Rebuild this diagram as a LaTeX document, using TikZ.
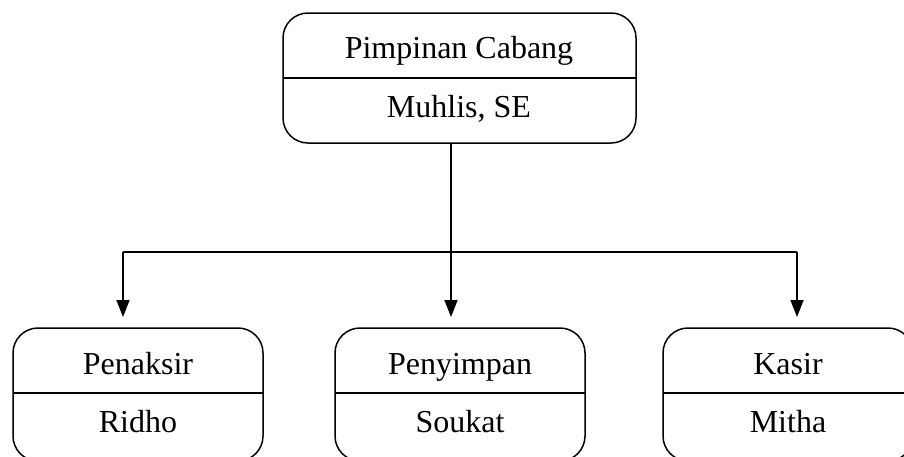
\documentclass[tikz,border=0pt]{standalone}
\usepackage{fontspec}
\setmainfont{Liberation Serif}
\usetikzlibrary{arrows.meta}
\begin{document}
\begin{tikzpicture}[x=1pt,y=-1pt,
  box/.style={draw, line width=1.5pt, rounded corners=25pt, inner sep=0pt, outer sep=0pt},
  divider/.style={line width=1.5pt},
  conn/.style={line width=1.5pt},
  arr/.style={conn, -{Triangle[width=13pt,length=17pt]}},
  lbl/.style={anchor=base, inner sep=0pt, font=\fontsize{32}{38}\selectfont}]
\useasboundingbox (0,0) rectangle (904,456);
% boxes
\node[box, minimum width=353pt, minimum height=130pt] (top) at (459.5,78) {};
\node[box, minimum width=250pt, minimum height=133pt] (pen) at (138,394.5) {};
\node[box, minimum width=250pt, minimum height=133pt] (peny) at (460,394.5) {};
\node[box, minimum width=250pt, minimum height=133pt] (kas) at (788,394.5) {};
% dividers
\draw[divider] (top.west) -- (top.east);
\coordinate (dv) at (0,393);
\draw[divider] (pen.west |- dv) -- (pen.east |- dv);
\draw[divider] (peny.west |- dv) -- (peny.east |- dv);
\draw[divider] (kas.west |- dv) -- (kas.east |- dv);
% labels
\node[lbl] (t1) at (459,58) {Pimpinan Cabang};
\node[lbl] (t2) at (459,117) {Muhlis, SE};
\node[lbl] (p1) at (138,374) {Penaksir};
\node[lbl] (p2) at (138,432) {Ridho};
\node[lbl] (s1) at (460,374) {Penyimpan};
\node[lbl] (s2) at (460,432) {Soukat};
\node[lbl] (k1) at (788,374) {Kasir};
\node[lbl] (k2) at (788,432) {Mitha};
% connectors
\coordinate (j) at (451,252);
\coordinate (jl) at (123,252);
\coordinate (jr) at (797,252);
\draw[conn] (top.south -| j) -- (j);
\draw[conn] (jl) -- (jr);
\draw[arr] (jl) -- ([yshift=11pt]pen.north -| jl);
\draw[arr] (j) -- ([yshift=11pt]peny.north -| j);
\draw[arr] (jr) -- ([yshift=11pt]kas.north -| jr);
\end{tikzpicture}
\end{document}
